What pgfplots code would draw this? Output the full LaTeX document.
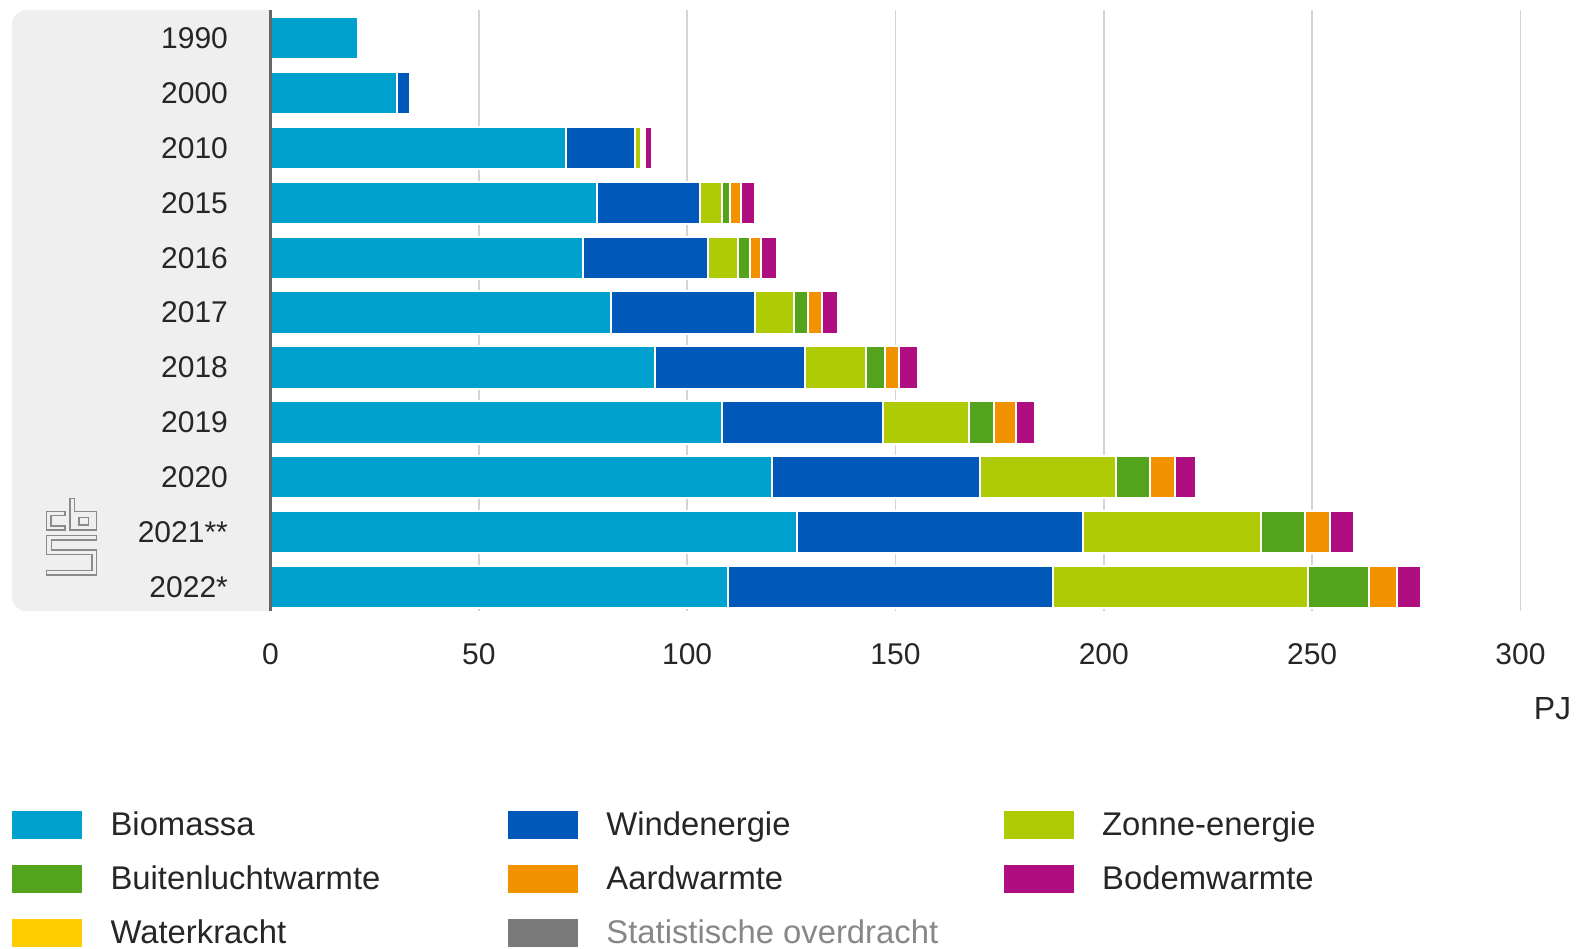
\documentclass[border=0pt]{standalone}
\usepackage{pgfplots}
\pgfplotsset{compat=1.18}
\usepackage{pgfplotstable}
\usepackage{fontspec}
\setmainfont{Liberation Sans}
\definecolor{bio}{HTML}{00A1CD}
\definecolor{wind}{HTML}{0058B8}
\definecolor{zon}{HTML}{AFCB05}
\definecolor{buiten}{HTML}{53A31D}
\definecolor{aard}{HTML}{F39200}
\definecolor{bodem}{HTML}{AF0E80}
\definecolor{water}{HTML}{FFCC00}
\definecolor{stat}{HTML}{7A7A7A}
\definecolor{bgpanel}{HTML}{EFEFEF}
\definecolor{txt}{HTML}{262626}
\definecolor{gridc}{HTML}{D4D4D4}
\definecolor{axc}{HTML}{666666}
\definecolor{logoc}{HTML}{8A8A8A}

\pgfplotstableread{
idx bio wind zon buiten aard bodem
0 20.9 0 0 0 0 0
1 30.4 3.2 0 0 0 0
2 71.0 16.6 1.4 0.4 0.4 1.8
3 78.4 24.6 5.3 2.1 2.6 3.3
4 75.0 30.0 7.3 2.7 2.7 3.8
5 81.7 34.6 9.4 3.3 3.4 3.8
6 92.3 36.0 14.7 4.6 3.3 4.6
7 108.4 38.6 20.7 6.0 5.3 4.5
8 120.4 49.9 32.7 8.0 6.0 5.2
9 126.4 68.6 42.7 10.6 6.0 5.8
10 109.7 78.0 61.2 14.7 6.7 5.9
}\data

\begin{document}
\begin{tikzpicture}
\useasboundingbox (-135.25pt,-168.45pt) rectangle (653.25pt,305.55pt);
% grey panel behind the year labels
\fill[bgpanel] (0pt,0pt) {[rounded corners=7pt] -- (-129.25pt,0pt) -- (-129.25pt,300.45pt)} -- (0pt,300.45pt) -- cycle;
% CBS logo (image pixel coordinates)
\begin{scope}[shift={(-135.25pt,305.55pt)}, x=0.5pt, y=-0.5pt, draw=logoc, line width=0.65pt, line join=miter]
\draw (65,511.7) -- (46.7,511.7) -- (46.7,530) -- (65,530) -- (65,526) -- (51,526) -- (51,515.7) -- (65,515.7) -- cycle;
\draw (70,498.3) -- (74.3,498.3) -- (74.3,511.7) -- (96.7,511.7) -- (96.7,530) -- (70,530) -- cycle;
\draw (79,517.7) rectangle (88.3,525);
\draw (46.7,535.7) -- (96.7,535.7) -- (96.7,540) -- (51.7,540) -- (51.7,550) -- (96.7,550) -- (96.7,575) -- (46.7,575) -- (46.7,570.5) -- (92,570.5) -- (92,554.5) -- (46.7,554.5) -- cycle;
\end{scope}
\begin{axis}[
  name=ax,
  at={(0pt,0pt)}, anchor=south west,
  scale only axis, width=645.8pt, height=300.45pt,
  xmin=0, xmax=310, ymin=-0.51, ymax=10.44,
  y dir=reverse,
  xbar stacked, bar width=21.2pt,
  axis line style={draw=none},
  xmajorgrids, grid style={gridc, line width=0.75pt},
  major tick length=0pt,
  xtick={0,50,...,300},
  ytick={0,...,10},
  yticklabels={1990,2000,2010,2015,2016,2017,2018,2019,2020,2021**,2022*},
  /pgf/number format/assume math mode=true,
  ticklabel style={font=\fontsize{15}{18}\selectfont, text=txt, inner sep=0pt},
  xticklabel style={anchor=center, yshift=-21.3pt},
  yticklabel style={anchor=east, xshift=-21.1pt},
  clip=false,
  legend columns=3,
  legend cell align=left,
  legend style={draw=none, fill=none, at={(-0.20014,-0.3102)}, anchor=north west,
    inner sep=0pt, outer sep=0pt, row sep=0pt,
    font=\fontsize{16.4}{19}\selectfont, text=txt,
    nodes={inner sep=0pt},
    /tikz/every odd column/.append style={column sep=14.1pt},
    /tikz/every even column/.append style={column sep=0pt}},
  legend image code/.code={
    \path[draw=none, fill=none] (0pt,-13.575pt) rectangle (35.2pt,13.575pt);
    \fill[#1, draw=none] (0pt,-7.05pt) rectangle (35.2pt,7.05pt);},
]
\addplot[fill=bio, draw=white, line width=1pt] table[x=bio, y=idx] {\data};
\addlegendentry{\makebox[198.6pt][l]{Biomassa}}
\addplot[fill=wind, draw=white, line width=1pt] table[x=wind, y=idx] {\data};
\addlegendentry{\makebox[198.6pt][l]{Windenergie}}
\addplot[fill=zon, draw=white, line width=1pt] table[x=zon, y=idx] {\data};
\addlegendentry{\makebox[198.6pt][l]{Zonne-energie}}
\addplot[fill=buiten, draw=white, line width=1pt] table[x=buiten, y=idx] {\data};
\addlegendentry{\makebox[198.6pt][l]{Buitenluchtwarmte}}
\addplot[fill=aard, draw=white, line width=1pt] table[x=aard, y=idx] {\data};
\addlegendentry{\makebox[198.6pt][l]{Aardwarmte}}
\addplot[fill=bodem, draw=white, line width=1pt] table[x=bodem, y=idx] {\data};
\addlegendentry{\makebox[198.6pt][l]{Bodemwarmte}}
\addlegendimage{fill=water, draw=none}
\addlegendentry{\makebox[198.6pt][l]{Waterkracht}}
\addlegendimage{fill=stat, draw=none}
\addlegendentry{\makebox[198.6pt][l]{\textcolor{stat!90}{Statistische overdracht}}}
\node[anchor=east, inner sep=0pt, font=\fontsize{16}{19}\selectfont, text=txt] at (rel axis cs:1,0) [xshift=4.75pt, yshift=-49pt] {PJ};
\end{axis}
\draw[axc, line width=1.9pt] (ax.south west) -- (ax.north west);
\end{tikzpicture}
\end{document}
